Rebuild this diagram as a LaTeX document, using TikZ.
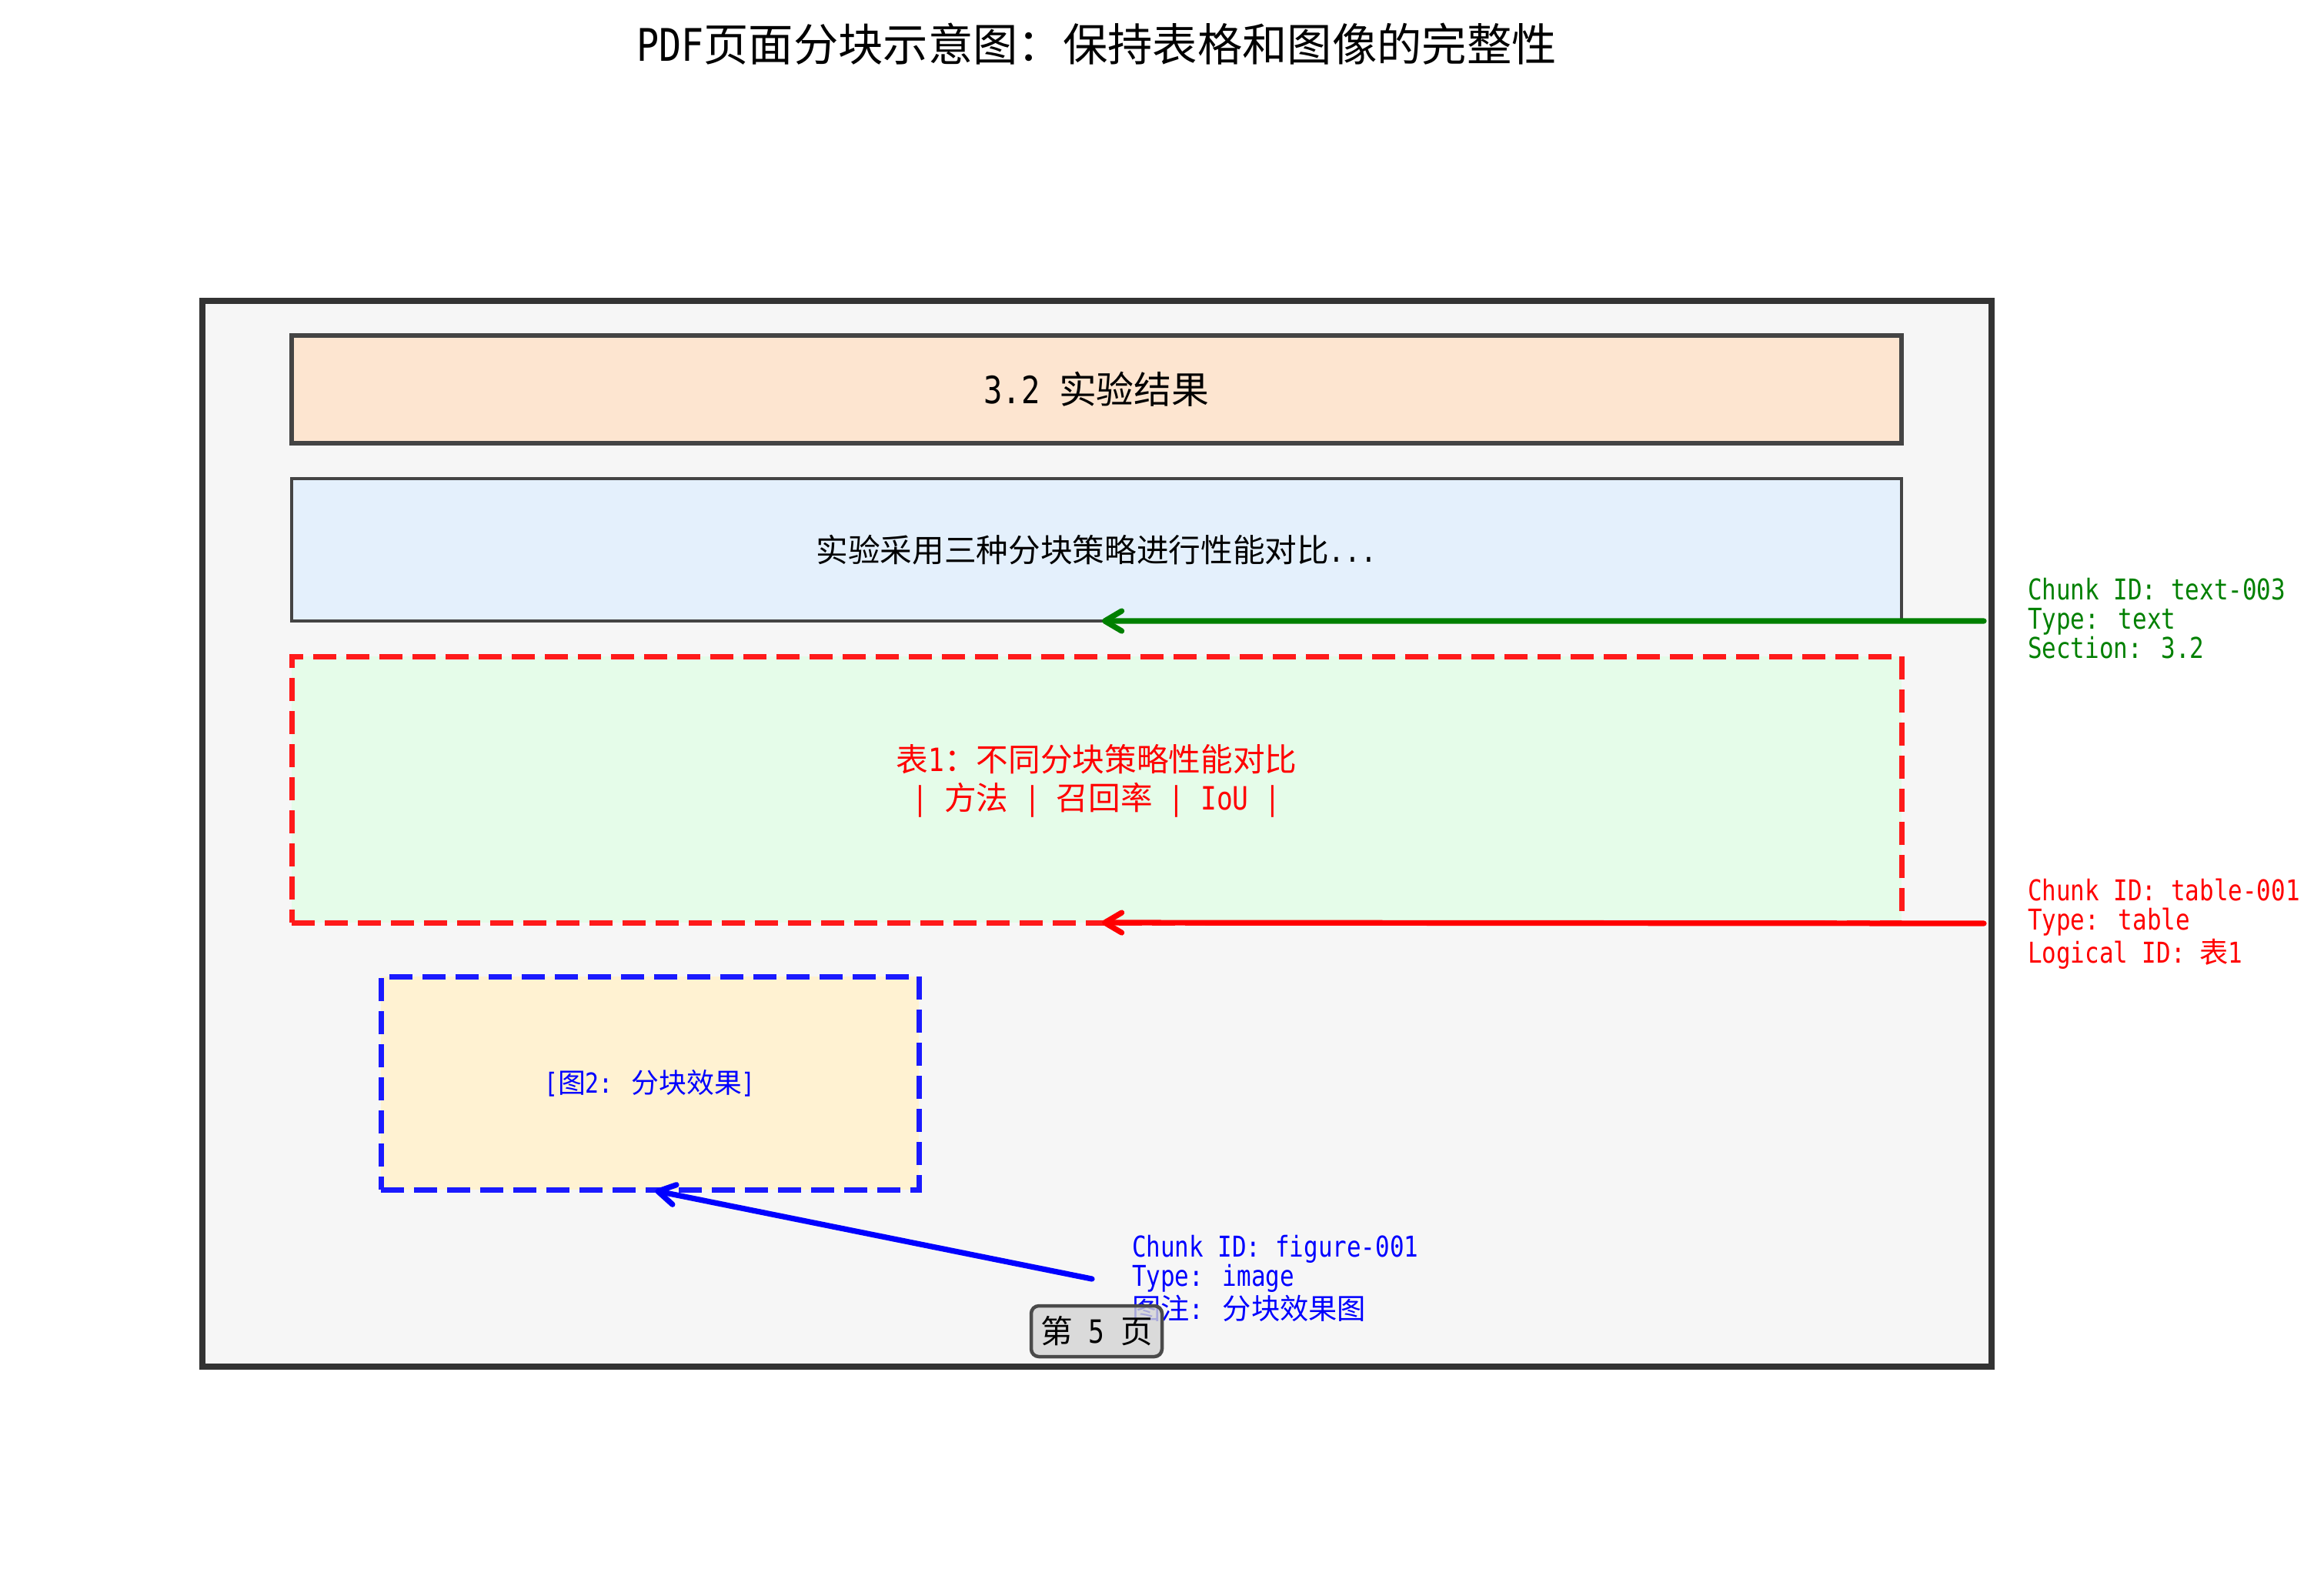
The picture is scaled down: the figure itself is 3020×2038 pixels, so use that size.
\documentclass[tikz,border=0pt]{standalone}
\usepackage{fontspec}
\setmainfont{DejaVu Sans Mono}[FakeStretch=0.83]
\newfontfamily\cjk{Noto Sans CJK SC}
\newcommand\zh[1]{{\cjk #1}}
\usetikzlibrary{arrows.meta}
\definecolor{framebg}{HTML}{F6F6F6}
\definecolor{frameline}{HTML}{333333}
\definecolor{boxline}{HTML}{444444}
\definecolor{hdrfill}{HTML}{FDE5D0}
\definecolor{txtfill}{HTML}{E4F0FC}
\definecolor{tblfill}{HTML}{E5FCE9}
\definecolor{figfill}{HTML}{FFF2D2}
\definecolor{tblred}{HTML}{FF1A1A}
\definecolor{figblue}{HTML}{1A1AFF}
\definecolor{cgreen}{HTML}{008000}
\definecolor{cred}{HTML}{FF0000}
\definecolor{cblue}{HTML}{0000FF}
\definecolor{pgfillc}{HTML}{D3D3D3}
\definecolor{pgline}{HTML}{4A4A4A}
\begin{document}
\begin{tikzpicture}[x=0.1mm,y=-0.1mm,
  box/.style={draw, rectangle, inner sep=0pt, outer sep=0pt},
  dashbox/.style={box, line width=0.7mm, dash pattern=on 3mm off 1.3mm},
  lbl/.style={anchor=north west, inner sep=0pt, outer sep=0pt, align=left,
    font=\fontsize{10.6}{10.8}\selectfont},
  conn/.style={line width=0.72mm, line cap=round,
    -{Straight Barb[round,length=2.2mm,width=2.6mm]}, shorten >=0.7mm}
]
\fill[white] (0,0) rectangle (3020,2038);
\useasboundingbox (0,0) rectangle (3020,2038);

% title
\node[font=\fontsize{16.6}{19}\selectfont] (title) at (1425,57)
  {PDF\zh{页面分块示意图：保持表格和图像的完整性}};

% page frame
\node[box, draw=frameline, fill=framebg, line width=0.8mm,
  minimum width=232.5mm, minimum height=138.5mm] (page) at (1425.5,1083.5) {};

% header
\node[box, draw=boxline, fill=hdrfill, line width=0.6mm,
  minimum width=209.2mm, minimum height=14mm,
  font=\fontsize{13.9}{16}\selectfont] (hdr) at (1425,506) {3.2 \zh{实验结果}};

% text block
\node[box, draw=boxline, fill=txtfill, line width=0.4mm,
  minimum width=209.2mm, minimum height=18.5mm,
  font=\fontsize{11.85}{14}\selectfont] (txt) at (1425,714.5)
  {\zh{实验采用三种分块策略进行性能对比}...};

% table block
\node[dashbox, draw=tblred, fill=tblfill,
  minimum width=209.2mm, minimum height=34.6mm] (tbl) at (1425,1026) {};
\node[align=center, text=cred, inner sep=0pt,
  font=\fontsize{11.85}{14.4}\selectfont] (tbltxt) at (1425,1015)
  {\zh{表}1\zh{：不同分块策略性能对比}\\| \zh{方法} | \zh{召回率} | IoU |};

% figure block
\node[dashbox, draw=figblue, fill=figfill,
  minimum width=69.9mm, minimum height=27.7mm, text=cblue,
  font=\fontsize{10.2}{12}\selectfont] (fig) at (844.5,1407.5)
  {[\zh{图}2: \zh{分块效果}]};

% connectors
\coordinate (gs) at (2578,807);
\coordinate (rs) at (2578,1200);
\coordinate (bs) at (1419,1662);
\draw[conn, draw=cgreen] (gs) -- (txt.south);
\draw[conn, draw=cred] (rs) -- (tbl.south);
\draw[conn, draw=cblue] (bs) -- (fig.south);

% labels
\node[lbl, text=cgreen] (lg) at (2635,751)
  {Chunk ID: text-003\\Type: text\\Section: 3.2};
\node[lbl, text=cred] (lr) at (2635,1142)
  {Chunk ID: table-001\\Type: table\\Logical ID: \zh{表}1};
\node[lbl, text=cblue] (lb) at (1471,1605)
  {Chunk ID: figure-001\\Type: image\\\zh{图注}: \zh{分块效果图}};

% page number
\node[box, draw=pgline, fill=pgfillc, fill opacity=0.8, text opacity=1,
  line width=0.45mm, rounded corners=1mm,
  minimum width=17mm, minimum height=6.6mm,
  font=\fontsize{11.85}{14}\selectfont] (pg) at (1425,1730) {\zh{第} 5 \zh{页}};
\end{tikzpicture}
\end{document}
